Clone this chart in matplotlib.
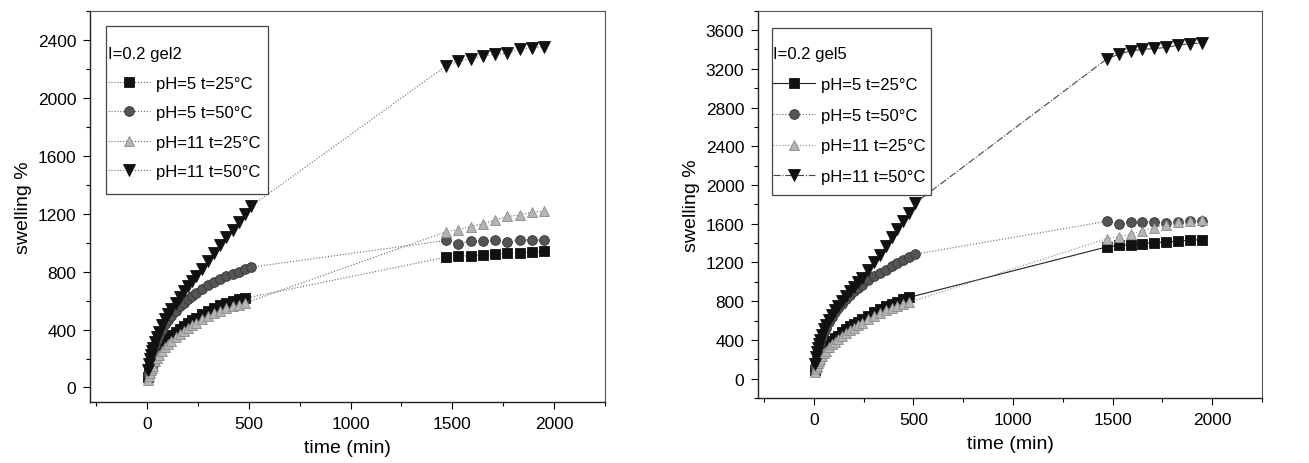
import matplotlib
matplotlib.use("Agg")
import matplotlib.pyplot as plt
from matplotlib.patches import Rectangle
from matplotlib.ticker import MultipleLocator

plt.rcParams['font.family'] = ['Liberation Sans', 'DejaVu Sans']

# time grids (min)
t_long = [5, 10, 15, 20, 25, 30, 40, 50, 60, 75, 90, 105, 120, 140, 160, 180,
          200, 220, 240, 270, 300, 330, 360, 390, 420, 450, 480, 510]
t_short = t_long[:-1]
t_late = [1470, 1530, 1590, 1650, 1710, 1770, 1830, 1890, 1950]

labels = ["pH=5 t=25°C", "pH=5 t=50°C", "pH=11 t=25°C", "pH=11 t=50°C"]

# gel2 (left panel)
g2_ph5_25 = [70, 100, 125, 145, 165, 180, 210, 235, 260, 290, 315, 340, 360, 385,
             405, 425, 445, 463, 480, 505, 528, 550, 570, 585, 597, 608, 615]
g2_ph5_25_late = [900, 905, 910, 915, 920, 925, 930, 935, 940]
g2_ph5_50 = [95, 140, 175, 205, 230, 255, 295, 330, 360, 400, 435, 465, 495, 530,
             560, 585, 610, 630, 650, 680, 705, 728, 748, 766, 783, 800, 815, 830]
g2_ph5_50_late = [1015, 990, 1010, 1010, 1015, 1005, 1015, 1020, 1015]
g2_ph11_25 = [55, 80, 100, 120, 135, 150, 180, 205, 225, 255, 280, 300, 320, 345,
              368, 390, 410, 428, 445, 470, 493, 513, 530, 547, 560, 572, 582]
g2_ph11_25_late = [1075, 1090, 1110, 1130, 1155, 1180, 1190, 1210, 1215]
g2_ph11_50 = [120, 160, 195, 225, 250, 275, 315, 350, 385, 430, 470, 505, 540, 585,
              625, 665, 700, 735, 770, 820, 875, 930, 985, 1040, 1090, 1140, 1195, 1250]
g2_ph11_50_late = [2220, 2250, 2270, 2285, 2300, 2305, 2335, 2345, 2350]

# gel5 (right panel)
g5_ph5_25 = [85, 125, 160, 190, 215, 235, 270, 300, 325, 360, 390, 420, 445, 480,
             510, 540, 565, 590, 615, 650, 685, 715, 745, 770, 795, 818, 840]
g5_ph5_25_late = [1360, 1375, 1380, 1395, 1405, 1410, 1420, 1430, 1435]
g5_ph5_50 = [120, 190, 245, 290, 330, 365, 425, 480, 525, 585, 640, 685, 725, 775,
             820, 865, 905, 940, 970, 1015, 1055, 1090, 1125, 1160, 1195, 1225, 1255, 1285]
g5_ph5_50_late = [1625, 1595, 1615, 1620, 1620, 1610, 1615, 1625, 1625]
g5_ph11_25 = [70, 105, 135, 160, 180, 200, 235, 265, 290, 325, 355, 383, 410, 443,
              473, 502, 528, 553, 577, 612, 645, 676, 705, 730, 752, 772, 790]
g5_ph11_25_late = [1445, 1465, 1490, 1525, 1560, 1590, 1615, 1630, 1635]
g5_ph11_50 = [150, 220, 280, 320, 360, 395, 455, 510, 550, 610, 660, 705, 750, 800,
              850, 900, 950, 995, 1040, 1120, 1200, 1280, 1370, 1460, 1545, 1625, 1715, 1815]
g5_ph11_50_late = [3300, 3350, 3385, 3400, 3410, 3420, 3445, 3460, 3465]

markers = ['s', 'o', '^', 'v']
face = ['#111111', '#555555', '#b5b5b5', '#111111']
edge = ['#111111', '#333333', '#8a8a8a', '#111111']
msize = [6.5, 7, 7, 8]


def panel(ax, series, styles, title, ylim, yticks, box, anchor, spacing):
    handles = []
    for i, (early, late) in enumerate(series):
        te = t_long if len(early) == len(t_long) else t_short
        ls, lc = styles[i]
        h, = ax.plot(te + t_late, early + late, linestyle=ls, color=lc, lw=0.8,
                     marker=markers[i], ms=msize[i], mfc=face[i], mec=edge[i],
                     mew=0.6, label=labels[i])
        handles.append(h)

    ax.set_xlim(-280, 2250)
    ax.set_ylim(*ylim)
    ax.set_xticks([0, 500, 1000, 1500, 2000])
    ax.set_yticks(yticks)
    ax.xaxis.set_minor_locator(MultipleLocator(250))
    ax.yaxis.set_minor_locator(MultipleLocator(200))
    ax.tick_params(which='major', direction='out', length=5, width=0.8,
                   labelsize=12.5, pad=5, top=False, right=False)
    ax.tick_params(which='minor', direction='out', length=3, width=0.8,
                   top=False, right=False)
    for side in ['left', 'bottom']:
        ax.spines[side].set_color('#222222')
        ax.spines[side].set_linewidth(1.0)
    for side in ['top', 'right']:
        ax.spines[side].set_color('#555555')
        ax.spines[side].set_linewidth(0.8)
    ax.set_xlabel("time (min)", fontsize=14, labelpad=6)
    ax.set_ylabel("swelling %", fontsize=14, labelpad=4)

    # legend frame drawn separately so its padding can match the original
    ax.add_patch(Rectangle(box[:2], box[2], box[3], transform=ax.transAxes,
                           facecolor='white', edgecolor='#444444', lw=0.9,
                           zorder=4))
    leg = ax.legend(handles=handles, title=title, loc='upper left',
                    bbox_to_anchor=anchor, borderaxespad=0, frameon=False,
                    fontsize=12, title_fontsize=12, alignment='left',
                    handlelength=2.5, handletextpad=0.35, labelspacing=spacing,
                    borderpad=0)
    leg.set_zorder(5)


fig = plt.figure(figsize=(13.09, 4.64), dpi=100)
ax1 = fig.add_axes([0.0688, 0.1315, 0.3934, 0.8433])
ax2 = fig.add_axes([0.5791, 0.1401, 0.3850, 0.8347])

left_series = [(g2_ph5_25, g2_ph5_25_late), (g2_ph5_50, g2_ph5_50_late),
               (g2_ph11_25, g2_ph11_25_late), (g2_ph11_50, g2_ph11_50_late)]
left_styles = [(':', '#666666')] * 4
panel(ax1, left_series, left_styles, "I=0.2 gel2", (-100, 2600),
      [0, 400, 800, 1200, 1600, 2000, 2400],
      (0.031, 0.532, 0.315, 0.429), (0.035, 0.909), 0.87)

right_series = [(g5_ph5_25, g5_ph5_25_late), (g5_ph5_50, g5_ph5_50_late),
                (g5_ph11_25, g5_ph11_25_late), (g5_ph11_50, g5_ph11_50_late)]
right_styles = [('-', '#222222'), (':', '#666666'), (':', '#888888'), ('-.', '#444444')]
panel(ax2, right_series, right_styles, "I=0.2 gel5", (-200, 3800),
      [0, 400, 800, 1200, 1600, 2000, 2400, 2800, 3200, 3600],
      (0.028, 0.524, 0.3155, 0.431), (0.03, 0.909), 0.95)

fig.savefig("out.png", dpi=100)
